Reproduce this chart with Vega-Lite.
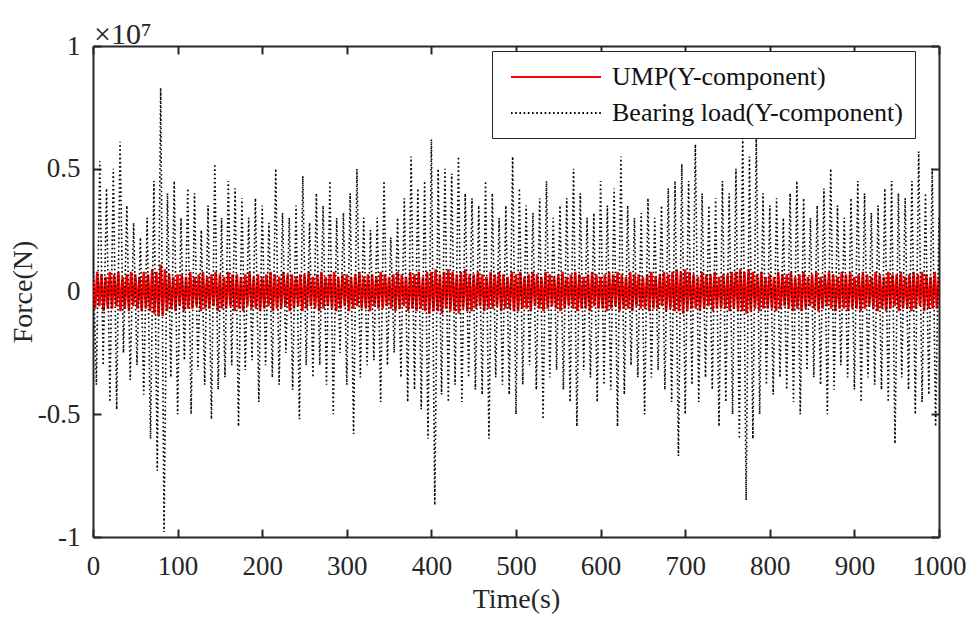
{
  "$schema": "https://vega.github.io/schema/vega-lite/v6.json",
  "width": 846,
  "height": 491,
  "autosize": {"type": "none"},
  "padding": {"left": 93, "top": 46, "right": 33, "bottom": 84},
  "background": "white",
  "title": {"text": "×10⁷", "anchor": "start", "frame": "group", "font": "Liberation Serif", "fontSize": 30, "fontWeight": "normal", "color": "#262626", "offset": -18, "dx": 1},
  "config": {
    "view": {"stroke": null},
    "axis": {
      "labelFont": "Liberation Serif", "labelFontSize": 27, "labelColor": "#262626",
      "titleFont": "Liberation Serif", "titleFontSize": 28, "titleFontWeight": "normal", "titleColor": "#262626",
      "domainColor": "#262626", "domainWidth": 2, "tickColor": "#262626", "tickWidth": 2, "tickSize": -8,
      "grid": false
    },
    "legend": {"labelFont": "Liberation Serif", "labelFontSize": 26, "labelColor": "#111111", "labelLimit": 500}
  },
  "datasets": {
    "ump": [
      {"t":0,"v":0.05},{"t":2.5,"v":-0.07},{"t":5,"v":0.08},{"t":7.5,"v":-0.06},{"t":10,"v":0.07},{"t":12.5,"v":-0.08},{"t":15,"v":0.06},{"t":17.5,"v":-0.07},{"t":20,"v":0.08},{"t":22.5,"v":-0.07},
      {"t":25,"v":0.07},{"t":27.5,"v":-0.06},{"t":30,"v":0.08},{"t":32.5,"v":-0.08},{"t":35,"v":0.06},{"t":37.5,"v":-0.07},{"t":40,"v":0.07},{"t":42.5,"v":-0.08},{"t":45,"v":0.08},{"t":47.5,"v":-0.06},
      {"t":50,"v":0.07},{"t":52.5,"v":-0.07},{"t":55,"v":0.06},{"t":57.5,"v":-0.08},{"t":60,"v":0.08},{"t":62.5,"v":-0.07},{"t":65,"v":0.07},{"t":67.5,"v":-0.08},{"t":70,"v":0.09},{"t":72.5,"v":-0.09},
      {"t":75,"v":0.08},{"t":77.5,"v":-0.1},{"t":80,"v":0.11},{"t":82.5,"v":-0.1},{"t":85,"v":0.09},{"t":87.5,"v":-0.08},{"t":90,"v":0.07},{"t":92.5,"v":-0.07},{"t":95,"v":0.06},{"t":97.5,"v":-0.08},
      {"t":100,"v":0.07},{"t":102.5,"v":-0.06},{"t":105,"v":0.07},{"t":107.5,"v":-0.08},{"t":110,"v":0.06},{"t":112.5,"v":-0.07},{"t":115,"v":0.08},{"t":117.5,"v":-0.07},{"t":120,"v":0.06},{"t":122.5,"v":-0.06},
      {"t":125,"v":0.07},{"t":127.5,"v":-0.08},{"t":130,"v":0.08},{"t":132.5,"v":-0.07},{"t":135,"v":0.06},{"t":137.5,"v":-0.07},{"t":140,"v":0.07},{"t":142.5,"v":-0.06},{"t":145,"v":0.08},{"t":147.5,"v":-0.08},
      {"t":150,"v":0.07},{"t":152.5,"v":-0.07},{"t":155,"v":0.06},{"t":157.5,"v":-0.07},{"t":160,"v":0.08},{"t":162.5,"v":-0.06},{"t":165,"v":0.07},{"t":167.5,"v":-0.08},{"t":170,"v":0.07},{"t":172.5,"v":-0.07},
      {"t":175,"v":0.06},{"t":177.5,"v":-0.08},{"t":180,"v":0.07},{"t":182.5,"v":-0.06},{"t":185,"v":0.08},{"t":187.5,"v":-0.07},{"t":190,"v":0.06},{"t":192.5,"v":-0.07},{"t":195,"v":0.07},{"t":197.5,"v":-0.08},
      {"t":200,"v":0.06},{"t":202.5,"v":-0.07},{"t":205,"v":0.07},{"t":207.5,"v":-0.06},{"t":210,"v":0.08},{"t":212.5,"v":-0.08},{"t":215,"v":0.07},{"t":217.5,"v":-0.07},{"t":220,"v":0.06},{"t":222.5,"v":-0.07},
      {"t":225,"v":0.08},{"t":227.5,"v":-0.06},{"t":230,"v":0.07},{"t":232.5,"v":-0.08},{"t":235,"v":0.07},{"t":237.5,"v":-0.07},{"t":240,"v":0.06},{"t":242.5,"v":-0.06},{"t":245,"v":0.07},{"t":247.5,"v":-0.08},
      {"t":250,"v":0.07},{"t":252.5,"v":-0.07},{"t":255,"v":0.08},{"t":257.5,"v":-0.06},{"t":260,"v":0.06},{"t":262.5,"v":-0.07},{"t":265,"v":0.07},{"t":267.5,"v":-0.08},{"t":270,"v":0.08},{"t":272.5,"v":-0.07},
      {"t":275,"v":0.06},{"t":277.5,"v":-0.06},{"t":280,"v":0.07},{"t":282.5,"v":-0.07},{"t":285,"v":0.08},{"t":287.5,"v":-0.08},{"t":290,"v":0.06},{"t":292.5,"v":-0.07},{"t":295,"v":0.07},{"t":297.5,"v":-0.06},
      {"t":300,"v":0.07},{"t":302.5,"v":-0.08},{"t":305,"v":0.06},{"t":307.5,"v":-0.07},{"t":310,"v":0.07},{"t":312.5,"v":-0.06},{"t":315,"v":0.08},{"t":317.5,"v":-0.07},{"t":320,"v":0.06},{"t":322.5,"v":-0.07},
      {"t":325,"v":0.07},{"t":327.5,"v":-0.08},{"t":330,"v":0.07},{"t":332.5,"v":-0.06},{"t":335,"v":0.06},{"t":337.5,"v":-0.07},{"t":340,"v":0.08},{"t":342.5,"v":-0.07},{"t":345,"v":0.07},{"t":347.5,"v":-0.06},
      {"t":350,"v":0.06},{"t":352.5,"v":-0.07},{"t":355,"v":0.07},{"t":357.5,"v":-0.08},{"t":360,"v":0.08},{"t":362.5,"v":-0.07},{"t":365,"v":0.07},{"t":367.5,"v":-0.06},{"t":370,"v":0.06},{"t":372.5,"v":-0.08},
      {"t":375,"v":0.08},{"t":377.5,"v":-0.07},{"t":380,"v":0.07},{"t":382.5,"v":-0.08},{"t":385,"v":0.08},{"t":387.5,"v":-0.07},{"t":390,"v":0.06},{"t":392.5,"v":-0.08},{"t":395,"v":0.08},{"t":397.5,"v":-0.09},
      {"t":400,"v":0.08},{"t":402.5,"v":-0.08},{"t":405,"v":0.09},{"t":407.5,"v":-0.08},{"t":410,"v":0.07},{"t":412.5,"v":-0.09},{"t":415,"v":0.08},{"t":417.5,"v":-0.07},{"t":420,"v":0.09},{"t":422.5,"v":-0.08},
      {"t":425,"v":0.08},{"t":427.5,"v":-0.08},{"t":430,"v":0.07},{"t":432.5,"v":-0.09},{"t":435,"v":0.08},{"t":437.5,"v":-0.07},{"t":440,"v":0.09},{"t":442.5,"v":-0.08},{"t":445,"v":0.07},{"t":447.5,"v":-0.08},
      {"t":450,"v":0.07},{"t":452.5,"v":-0.07},{"t":455,"v":0.08},{"t":457.5,"v":-0.06},{"t":460,"v":0.07},{"t":462.5,"v":-0.08},{"t":465,"v":0.06},{"t":467.5,"v":-0.07},{"t":470,"v":0.08},{"t":472.5,"v":-0.07},
      {"t":475,"v":0.07},{"t":477.5,"v":-0.06},{"t":480,"v":0.08},{"t":482.5,"v":-0.08},{"t":485,"v":0.07},{"t":487.5,"v":-0.07},{"t":490,"v":0.06},{"t":492.5,"v":-0.07},{"t":495,"v":0.08},{"t":497.5,"v":-0.08},
      {"t":500,"v":0.07},{"t":502.5,"v":-0.08},{"t":505,"v":0.08},{"t":507.5,"v":-0.07},{"t":510,"v":0.06},{"t":512.5,"v":-0.07},{"t":515,"v":0.07},{"t":517.5,"v":-0.08},{"t":520,"v":0.08},{"t":522.5,"v":-0.06},
      {"t":525,"v":0.07},{"t":527.5,"v":-0.07},{"t":530,"v":0.06},{"t":532.5,"v":-0.08},{"t":535,"v":0.08},{"t":537.5,"v":-0.07},{"t":540,"v":0.07},{"t":542.5,"v":-0.06},{"t":545,"v":0.06},{"t":547.5,"v":-0.07},
      {"t":550,"v":0.07},{"t":552.5,"v":-0.08},{"t":555,"v":0.08},{"t":557.5,"v":-0.07},{"t":560,"v":0.06},{"t":562.5,"v":-0.06},{"t":565,"v":0.07},{"t":567.5,"v":-0.07},{"t":570,"v":0.08},{"t":572.5,"v":-0.08},
      {"t":575,"v":0.07},{"t":577.5,"v":-0.07},{"t":580,"v":0.06},{"t":582.5,"v":-0.07},{"t":585,"v":0.07},{"t":587.5,"v":-0.08},{"t":590,"v":0.08},{"t":592.5,"v":-0.06},{"t":595,"v":0.07},{"t":597.5,"v":-0.07},
      {"t":600,"v":0.06},{"t":602.5,"v":-0.07},{"t":605,"v":0.07},{"t":607.5,"v":-0.08},{"t":610,"v":0.08},{"t":612.5,"v":-0.07},{"t":615,"v":0.07},{"t":617.5,"v":-0.06},{"t":620,"v":0.08},{"t":622.5,"v":-0.08},
      {"t":625,"v":0.07},{"t":627.5,"v":-0.07},{"t":630,"v":0.06},{"t":632.5,"v":-0.07},{"t":635,"v":0.08},{"t":637.5,"v":-0.08},{"t":640,"v":0.07},{"t":642.5,"v":-0.06},{"t":645,"v":0.07},{"t":647.5,"v":-0.07},
      {"t":650,"v":0.06},{"t":652.5,"v":-0.07},{"t":655,"v":0.07},{"t":657.5,"v":-0.08},{"t":660,"v":0.08},{"t":662.5,"v":-0.07},{"t":665,"v":0.06},{"t":667.5,"v":-0.07},{"t":670,"v":0.07},{"t":672.5,"v":-0.06},
      {"t":675,"v":0.08},{"t":677.5,"v":-0.08},{"t":680,"v":0.07},{"t":682.5,"v":-0.07},{"t":685,"v":0.08},{"t":687.5,"v":-0.08},{"t":690,"v":0.09},{"t":692.5,"v":-0.08},{"t":695,"v":0.08},{"t":697.5,"v":-0.09},
      {"t":700,"v":0.09},{"t":702.5,"v":-0.08},{"t":705,"v":0.08},{"t":707.5,"v":-0.07},{"t":710,"v":0.07},{"t":712.5,"v":-0.07},{"t":715,"v":0.06},{"t":717.5,"v":-0.08},{"t":720,"v":0.08},{"t":722.5,"v":-0.07},
      {"t":725,"v":0.07},{"t":727.5,"v":-0.06},{"t":730,"v":0.07},{"t":732.5,"v":-0.08},{"t":735,"v":0.08},{"t":737.5,"v":-0.07},{"t":740,"v":0.06},{"t":742.5,"v":-0.07},{"t":745,"v":0.07},{"t":747.5,"v":-0.07},
      {"t":750,"v":0.07},{"t":752.5,"v":-0.08},{"t":755,"v":0.08},{"t":757.5,"v":-0.07},{"t":760,"v":0.08},{"t":762.5,"v":-0.08},{"t":765,"v":0.09},{"t":767.5,"v":-0.08},{"t":770,"v":0.08},{"t":772.5,"v":-0.09},
      {"t":775,"v":0.09},{"t":777.5,"v":-0.08},{"t":780,"v":0.08},{"t":782.5,"v":-0.07},{"t":785,"v":0.07},{"t":787.5,"v":-0.08},{"t":790,"v":0.08},{"t":792.5,"v":-0.07},{"t":795,"v":0.06},{"t":797.5,"v":-0.07},
      {"t":800,"v":0.07},{"t":802.5,"v":-0.07},{"t":805,"v":0.06},{"t":807.5,"v":-0.08},{"t":810,"v":0.08},{"t":812.5,"v":-0.07},{"t":815,"v":0.07},{"t":817.5,"v":-0.06},{"t":820,"v":0.07},{"t":822.5,"v":-0.07},
      {"t":825,"v":0.08},{"t":827.5,"v":-0.08},{"t":830,"v":0.06},{"t":832.5,"v":-0.07},{"t":835,"v":0.07},{"t":837.5,"v":-0.08},{"t":840,"v":0.08},{"t":842.5,"v":-0.07},{"t":845,"v":0.06},{"t":847.5,"v":-0.06},
      {"t":850,"v":0.07},{"t":852.5,"v":-0.07},{"t":855,"v":0.08},{"t":857.5,"v":-0.08},{"t":860,"v":0.06},{"t":862.5,"v":-0.07},{"t":865,"v":0.07},{"t":867.5,"v":-0.06},{"t":870,"v":0.08},{"t":872.5,"v":-0.07},
      {"t":875,"v":0.07},{"t":877.5,"v":-0.08},{"t":880,"v":0.06},{"t":882.5,"v":-0.07},{"t":885,"v":0.08},{"t":887.5,"v":-0.07},{"t":890,"v":0.07},{"t":892.5,"v":-0.08},{"t":895,"v":0.08},{"t":897.5,"v":-0.07},
      {"t":900,"v":0.06},{"t":902.5,"v":-0.07},{"t":905,"v":0.07},{"t":907.5,"v":-0.08},{"t":910,"v":0.08},{"t":912.5,"v":-0.07},{"t":915,"v":0.07},{"t":917.5,"v":-0.06},{"t":920,"v":0.06},{"t":922.5,"v":-0.07},
      {"t":925,"v":0.08},{"t":927.5,"v":-0.08},{"t":930,"v":0.07},{"t":932.5,"v":-0.07},{"t":935,"v":0.06},{"t":937.5,"v":-0.08},{"t":940,"v":0.08},{"t":942.5,"v":-0.07},{"t":945,"v":0.07},{"t":947.5,"v":-0.06},
      {"t":950,"v":0.07},{"t":952.5,"v":-0.08},{"t":955,"v":0.08},{"t":957.5,"v":-0.07},{"t":960,"v":0.06},{"t":962.5,"v":-0.07},{"t":965,"v":0.07},{"t":967.5,"v":-0.08},{"t":970,"v":0.08},{"t":972.5,"v":-0.07},
      {"t":975,"v":0.07},{"t":977.5,"v":-0.06},{"t":980,"v":0.08},{"t":982.5,"v":-0.08},{"t":985,"v":0.07},{"t":987.5,"v":-0.07},{"t":990,"v":0.06},{"t":992.5,"v":-0.07},{"t":995,"v":0.08},{"t":997.5,"v":-0.07},
      {"t":1000,"v":0.06}
    ],
    "bear": [
      {"t":0,"v":0.15},{"t":4,"v":-0.38},{"t":8,"v":0.53},{"t":12,"v":-0.3},{"t":16,"v":0.42},{"t":20,"v":-0.45},{"t":24,"v":0.5},{"t":28,"v":-0.48},{"t":32,"v":0.61},{"t":36,"v":-0.25},
      {"t":40,"v":0.35},{"t":44,"v":-0.36},{"t":48,"v":0.28},{"t":52,"v":-0.3},{"t":56,"v":0.22},{"t":60,"v":-0.42},{"t":64,"v":0.3},{"t":68,"v":-0.6},{"t":72,"v":0.45},{"t":76,"v":-0.73},
      {"t":80,"v":0.83},{"t":84,"v":-0.98},{"t":88,"v":0.4},{"t":92,"v":-0.35},{"t":96,"v":0.45},{"t":100,"v":-0.5},{"t":104,"v":0.3},{"t":108,"v":-0.28},{"t":112,"v":0.42},{"t":116,"v":-0.5},
      {"t":120,"v":0.4},{"t":124,"v":-0.32},{"t":128,"v":0.25},{"t":132,"v":-0.38},{"t":136,"v":0.35},{"t":140,"v":-0.52},{"t":144,"v":0.52},{"t":148,"v":-0.4},{"t":152,"v":0.3},{"t":156,"v":-0.35},
      {"t":160,"v":0.45},{"t":164,"v":-0.3},{"t":168,"v":0.42},{"t":172,"v":-0.55},{"t":176,"v":0.38},{"t":180,"v":-0.32},{"t":184,"v":0.3},{"t":188,"v":-0.28},{"t":192,"v":0.38},{"t":196,"v":-0.45},
      {"t":200,"v":0.35},{"t":204,"v":-0.3},{"t":208,"v":0.28},{"t":212,"v":-0.35},{"t":216,"v":0.5},{"t":220,"v":-0.38},{"t":224,"v":0.32},{"t":228,"v":-0.25},{"t":232,"v":0.3},{"t":236,"v":-0.4},
      {"t":240,"v":0.35},{"t":244,"v":-0.52},{"t":248,"v":0.47},{"t":252,"v":-0.3},{"t":256,"v":0.28},{"t":260,"v":-0.35},{"t":264,"v":0.4},{"t":268,"v":-0.3},{"t":272,"v":0.35},{"t":276,"v":-0.38},
      {"t":280,"v":0.45},{"t":284,"v":-0.5},{"t":288,"v":0.3},{"t":292,"v":-0.25},{"t":296,"v":0.32},{"t":300,"v":-0.38},{"t":304,"v":0.4},{"t":308,"v":-0.58},{"t":312,"v":0.5},{"t":316,"v":-0.35},
      {"t":320,"v":0.3},{"t":324,"v":-0.3},{"t":328,"v":0.25},{"t":332,"v":-0.28},{"t":336,"v":0.3},{"t":340,"v":-0.45},{"t":344,"v":0.45},{"t":348,"v":-0.3},{"t":352,"v":0.22},{"t":356,"v":-0.25},
      {"t":360,"v":0.3},{"t":364,"v":-0.35},{"t":368,"v":0.38},{"t":372,"v":-0.45},{"t":376,"v":0.55},{"t":380,"v":-0.4},{"t":384,"v":0.42},{"t":388,"v":-0.48},{"t":392,"v":0.45},{"t":396,"v":-0.6},
      {"t":400,"v":0.62},{"t":404,"v":-0.87},{"t":408,"v":0.5},{"t":412,"v":-0.42},{"t":416,"v":0.5},{"t":420,"v":-0.45},{"t":424,"v":0.48},{"t":428,"v":-0.38},{"t":432,"v":0.55},{"t":436,"v":-0.45},
      {"t":440,"v":0.4},{"t":444,"v":-0.35},{"t":448,"v":0.38},{"t":452,"v":-0.4},{"t":456,"v":0.35},{"t":460,"v":-0.42},{"t":464,"v":0.45},{"t":468,"v":-0.6},{"t":472,"v":0.4},{"t":476,"v":-0.35},
      {"t":480,"v":0.3},{"t":484,"v":-0.38},{"t":488,"v":0.35},{"t":492,"v":-0.42},{"t":496,"v":0.55},{"t":500,"v":-0.5},{"t":504,"v":0.42},{"t":508,"v":-0.38},{"t":512,"v":0.35},{"t":516,"v":-0.3},
      {"t":520,"v":0.32},{"t":524,"v":-0.4},{"t":528,"v":0.38},{"t":532,"v":-0.52},{"t":536,"v":0.45},{"t":540,"v":-0.35},{"t":544,"v":0.3},{"t":548,"v":-0.32},{"t":552,"v":0.35},{"t":556,"v":-0.4},
      {"t":560,"v":0.38},{"t":564,"v":-0.45},{"t":568,"v":0.5},{"t":572,"v":-0.55},{"t":576,"v":0.4},{"t":580,"v":-0.32},{"t":584,"v":0.3},{"t":588,"v":-0.35},{"t":592,"v":0.32},{"t":596,"v":-0.45},
      {"t":600,"v":0.45},{"t":604,"v":-0.38},{"t":608,"v":0.35},{"t":612,"v":-0.4},{"t":616,"v":0.42},{"t":620,"v":-0.55},{"t":624,"v":0.55},{"t":628,"v":-0.42},{"t":632,"v":0.35},{"t":636,"v":-0.3},
      {"t":640,"v":0.3},{"t":644,"v":-0.35},{"t":648,"v":0.32},{"t":652,"v":-0.5},{"t":656,"v":0.38},{"t":660,"v":-0.35},{"t":664,"v":0.3},{"t":668,"v":-0.32},{"t":672,"v":0.35},{"t":676,"v":-0.4},
      {"t":680,"v":0.42},{"t":684,"v":-0.45},{"t":688,"v":0.45},{"t":692,"v":-0.67},{"t":696,"v":0.52},{"t":700,"v":-0.5},{"t":704,"v":0.45},{"t":708,"v":-0.38},{"t":712,"v":0.6},{"t":716,"v":-0.45},
      {"t":720,"v":0.4},{"t":724,"v":-0.35},{"t":728,"v":0.35},{"t":732,"v":-0.4},{"t":736,"v":0.38},{"t":740,"v":-0.55},{"t":744,"v":0.45},{"t":748,"v":-0.45},{"t":752,"v":0.4},{"t":756,"v":-0.5},
      {"t":760,"v":0.5},{"t":764,"v":-0.6},{"t":768,"v":0.65},{"t":772,"v":-0.85},{"t":776,"v":0.55},{"t":780,"v":-0.6},{"t":784,"v":0.63},{"t":788,"v":-0.5},{"t":792,"v":0.4},{"t":796,"v":-0.38},
      {"t":800,"v":0.35},{"t":804,"v":-0.42},{"t":808,"v":0.38},{"t":812,"v":-0.35},{"t":816,"v":0.3},{"t":820,"v":-0.4},{"t":824,"v":0.4},{"t":828,"v":-0.45},{"t":832,"v":0.45},{"t":836,"v":-0.5},
      {"t":840,"v":0.38},{"t":844,"v":-0.32},{"t":848,"v":0.3},{"t":852,"v":-0.35},{"t":856,"v":0.35},{"t":860,"v":-0.38},{"t":864,"v":0.42},{"t":868,"v":-0.5},{"t":872,"v":0.5},{"t":876,"v":-0.4},
      {"t":880,"v":0.35},{"t":884,"v":-0.3},{"t":888,"v":0.3},{"t":892,"v":-0.35},{"t":896,"v":0.38},{"t":900,"v":-0.4},{"t":904,"v":0.45},{"t":908,"v":-0.45},{"t":912,"v":0.4},{"t":916,"v":-0.35},
      {"t":920,"v":0.32},{"t":924,"v":-0.38},{"t":928,"v":0.35},{"t":932,"v":-0.4},{"t":936,"v":0.42},{"t":940,"v":-0.45},{"t":944,"v":0.45},{"t":948,"v":-0.62},{"t":952,"v":0.4},{"t":956,"v":-0.35},
      {"t":960,"v":0.38},{"t":964,"v":-0.4},{"t":968,"v":0.45},{"t":972,"v":-0.5},{"t":976,"v":0.57},{"t":980,"v":-0.45},{"t":984,"v":0.4},{"t":988,"v":-0.42},{"t":992,"v":0.5},{"t":996,"v":-0.55},
      {"t":1000,"v":0.3}
    ]
  },
  "layer": [
    {
      "data": {"name": "ump"},
      "mark": {"type": "line", "strokeWidth": 2.5, "clip": true},
      "encoding": {
        "x": {"field": "t", "type": "quantitative", "scale": {"domain": [0, 1000], "nice": false},
              "axis": {"orient": "bottom", "values": [0,100,200,300,400,500,600,700,800,900,1000], "format": "d", "title": "Time(s)", "labelPadding": 24, "titlePadding": 6, "labelFlush": false}},
        "y": {"field": "v", "type": "quantitative", "scale": {"domain": [-1, 1], "nice": false},
              "axis": {"orient": "left", "values": [-1,-0.5,0,0.5,1], "title": "Force(N)", "labelPadding": 21, "titlePadding": 0, "labelFlush": false,
                       "labelExpr": "datum.value < 0 ? '-' + format(-datum.value, '~g') : format(datum.value, '~g')"}},
        "color": {"datum": "UMP(Y-component)", "type": "nominal",
                  "scale": {"domain": ["UMP(Y-component)", "Bearing load(Y-component)"], "range": ["#ff0000", "#000000"]},
                  "legend": {"title": null, "orient": "none", "legendX": 399, "legendY": 5, "fillColor": "white", "strokeColor": "#262626", "padding": 12, "symbolType": "M-3.46,0H3.46", "symbolSize": 676, "symbolStrokeWidth": 2, "symbolOffset": 38, "labelOffset": 42, "rowPadding": 9}},
        "strokeDash": {"datum": "UMP(Y-component)", "type": "nominal",
                  "scale": {"domain": ["UMP(Y-component)", "Bearing load(Y-component)"], "range": [[1, 0], [1.6, 2.6]]},
                  "legend": {"title": null, "orient": "none", "legendX": 399, "legendY": 5, "fillColor": "white", "strokeColor": "#262626", "padding": 12, "symbolType": "M-3.46,0H3.46", "symbolSize": 676, "symbolStrokeWidth": 2, "symbolOffset": 38, "labelOffset": 42, "rowPadding": 9}}
      }
    },
    {
      "data": {"name": "bear"},
      "mark": {"type": "line", "strokeWidth": 1.6, "clip": true},
      "encoding": {
        "x": {"field": "t", "type": "quantitative", "axis": {"orient": "top", "values": [0,100,200,300,400,500,600,700,800,900,1000], "labels": false, "title": null}},
        "y": {"field": "v", "type": "quantitative", "axis": {"orient": "right", "values": [-1,-0.5,0,0.5,1], "labels": false, "title": null}},
        "color": {"datum": "Bearing load(Y-component)", "type": "nominal"},
        "strokeDash": {"datum": "Bearing load(Y-component)", "type": "nominal"}
      }
    }
  ],
  "resolve": {"axis": {"x": "independent", "y": "independent"}}
}
